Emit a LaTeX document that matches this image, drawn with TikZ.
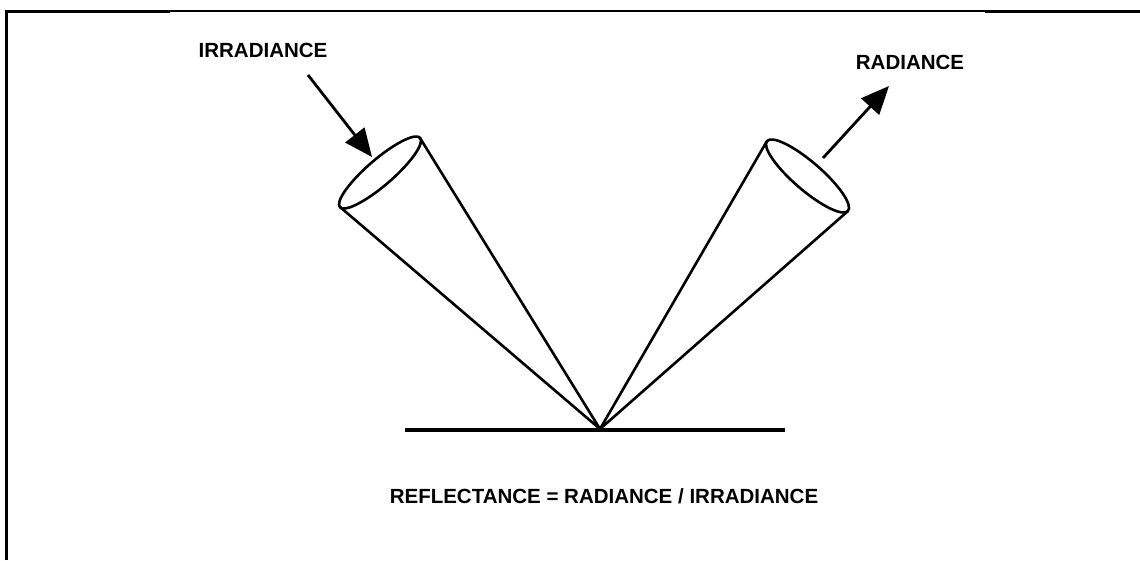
\documentclass[tikz,border=0pt]{standalone}
\usepackage{fontspec}
\setmainfont{Liberation Sans}
\usetikzlibrary{arrows.meta}
\begin{document}
\begin{tikzpicture}[x=1pt,y=-1pt,
  lbl/.style={inner sep=0pt,font=\fontsize{20.5}{24}\selectfont\bfseries},
  coneline/.style={line width=2.6pt,line join=round},
  ray/.style={line width=2.8pt,-{Triangle[length=28pt,width=24pt]}}]
\useasboundingbox (0,0) rectangle (1140,560);
% frame (open at right and bottom)
\draw[line width=3pt] (6.5,560) -- (6.5,11) -- (170,11);
\draw[line width=2pt] (170,11) -- (985,11);
\draw[line width=3pt] (985,11) -- (1140,11);
% ground
\coordinate (apex) at (600,429);
\coordinate (gl) at (405,430);
\coordinate (gr) at (785,430);
\draw[line width=3.4pt] (gl) -- (gr);
% left cone
\coordinate (lc) at (380,172.5);
\coordinate (la) at (420,138);
\coordinate (lb) at (340,207);
\draw[coneline] (la) -- (apex) -- (lb);
\draw[coneline] (lc) ellipse [x radius=53, y radius=13, rotate=40.8];
% right cone
\coordinate (rc) at (807.5,176);
\coordinate (ra) at (767,141);
\coordinate (rb) at (848,211);
\draw[coneline] (ra) -- (apex) -- (rb);
\draw[coneline] (rc) ellipse [x radius=53.5, y radius=14, rotate=-40.8];
% labels
\node[lbl] (irr) at (263,50) {IRRADIANCE};
\node[lbl] (rad) at (910,62) {RADIANCE};
\node[lbl] (refl) at (604,496) {REFLECTANCE = RADIANCE / IRRADIANCE};
% arrows
\coordinate (ia) at (308,75);
\coordinate (ib) at (372,157);
\coordinate (ra1) at (823,158);
\coordinate (ra2) at (889,86);
\draw[ray] (ia) -- (ib);
\draw[ray] (ra1) -- (ra2);
\end{tikzpicture}
\end{document}
